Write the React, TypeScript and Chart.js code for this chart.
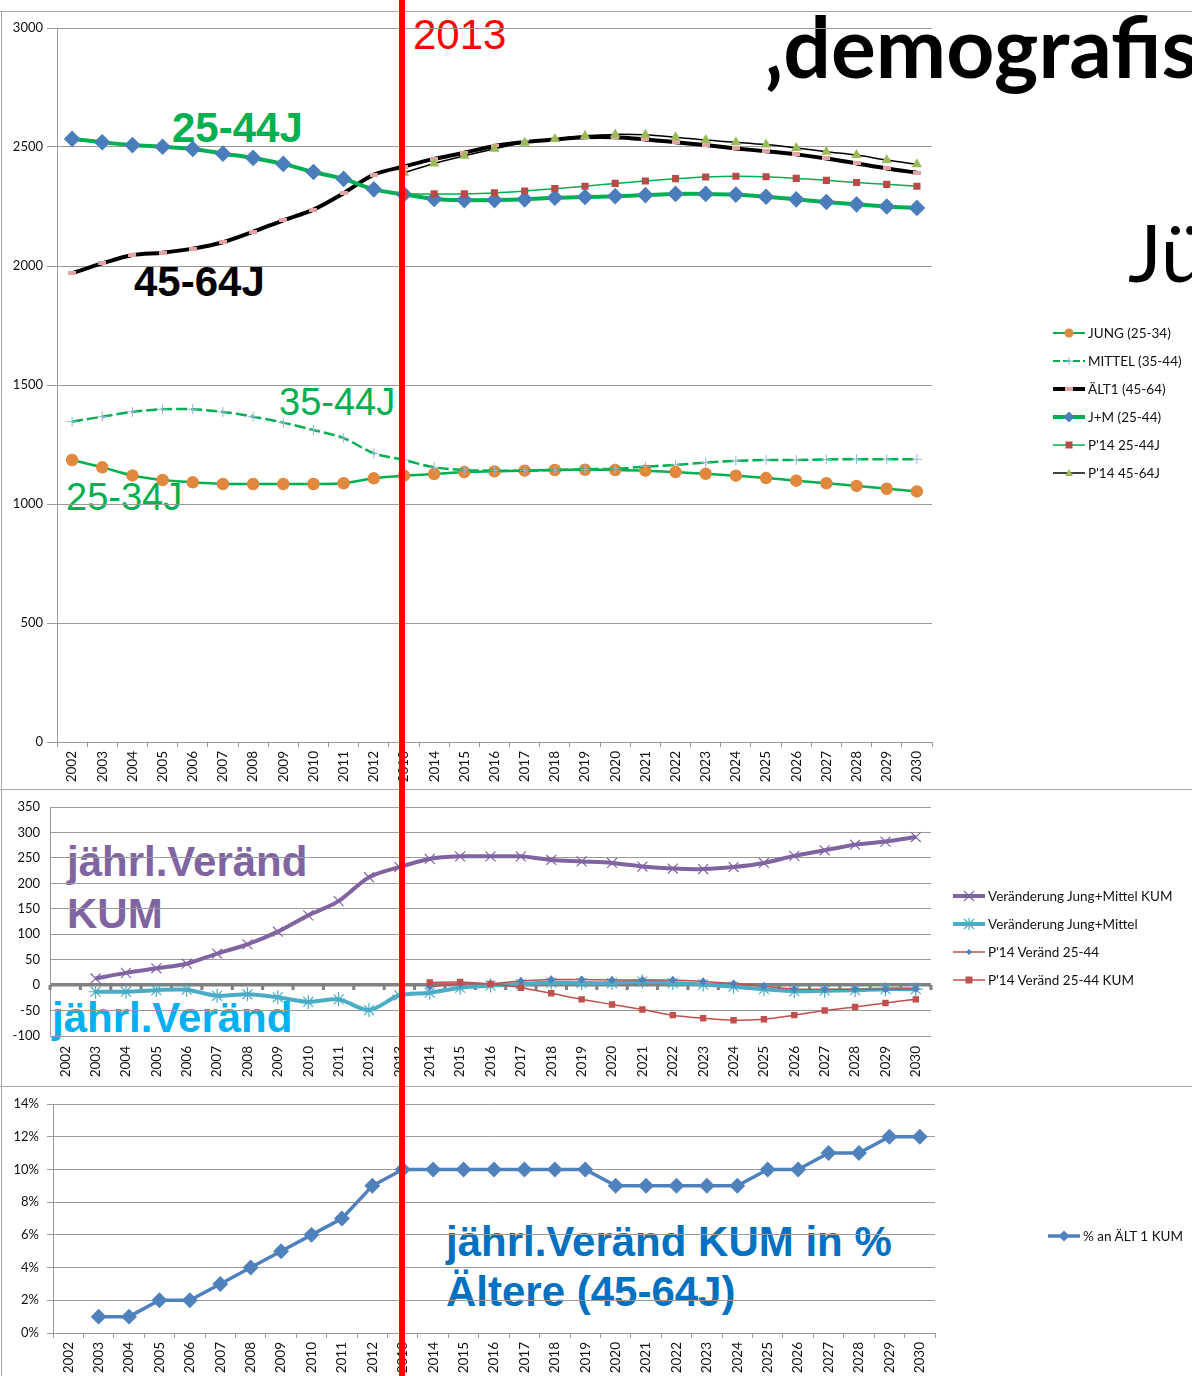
import React, { useEffect, useRef } from "react";
import { Chart, registerables } from "chart.js";

Chart.register(...registerables);

// ---------- DATA ----------
const years = [
  "2002", "2003", "2004", "2005", "2006", "2007", "2008", "2009", "2010", "2011",
  "2012", "2013", "2014", "2015", "2016", "2017", "2018", "2019", "2020", "2021",
  "2022", "2023", "2024", "2025", "2026", "2027", "2028", "2029", "2030",
];
const markYear = "2013";

const jung = [
  1185, 1154, 1120, 1101, 1091, 1084, 1084, 1084, 1084, 1087,
  1108, 1119, 1126, 1134, 1137, 1140, 1143, 1144, 1143, 1140,
  1134, 1127, 1119, 1109, 1098, 1087, 1076, 1064, 1053,
];
const mittel = [
  1346, 1367, 1387, 1398, 1398, 1387, 1367, 1342, 1311, 1277,
  1213, 1185, 1154, 1143, 1140, 1140, 1143, 1146, 1148, 1157,
  1164, 1174, 1181, 1185, 1185, 1187, 1188, 1188, 1188,
];
const aelt1 = [
  1970, 2011, 2046, 2056, 2073, 2100, 2144, 2192, 2237, 2306,
  2384, 2418, 2450, 2476, 2504, 2521, 2532, 2541, 2541, 2532,
  2520, 2508, 2494, 2482, 2469, 2452, 2431, 2410, 2392,
];
const jm = [
  2534, 2520, 2508, 2501, 2492, 2472, 2454, 2429, 2395, 2366,
  2322, 2301, 2282, 2277, 2277, 2280, 2287, 2290, 2293, 2298,
  2303, 2303, 2300, 2291, 2280, 2269, 2259, 2250, 2244,
];
const p14_2544 = [
  null, null, null, null, null, null, null, null, null, null,
  null, 2303, 2303, 2303, 2307, 2315, 2325, 2335, 2347, 2357,
  2367, 2374, 2377, 2375, 2368, 2360, 2351, 2343, 2335,
];
const p14_4564 = [
  null, null, null, null, null, null, null, null, null, null,
  null, 2392, 2431, 2463, 2493, 2518, 2534, 2547, 2553, 2551,
  2541, 2529, 2520, 2510, 2496, 2480, 2466, 2445, 2427,
];

const verKum = [
  null, 13, 24, 33, 42, 62, 80, 105, 137, 165,
  212, 232, 248, 253, 253, 253, 246, 243, 240, 233,
  229, 228, 232, 240, 254, 265, 276, 282, 291,
];
const verJM = [
  null, -13, -13, -10, -9, -21, -18, -24, -33, -28,
  -49, -20, -15, -5, -1, 2, 5, 4, 4, 7,
  4, 1, -3, -8, -12, -11, -10, -8, -8,
];
const p14Ver = [
  null, null, null, null, null, null, null, null, null, null,
  null, null, -3, 2, 3, 8, 11, 11, 10, 10,
  10, 7, 3, -2, -8, -8, -8, -8, -7,
];
const p14VerKum = [
  null, null, null, null, null, null, null, null, null, null,
  null, null, 5, 6, 2, -5, -16, -28, -38, -48,
  -59, -65, -69, -67, -59, -50, -43, -35, -28,
];

const pctAelt = [
  null, 1, 1, 2, 2, 3, 4, 5, 6, 7,
  9, 10, 10, 10, 10, 10, 10, 10, 9, 9,
  9, 9, 9, 10, 10, 11, 11, 12, 12,
];

const topTicks = { min: 0, max: 3000, step: 500 };
const midTicks = { min: -100, max: 350, step: 50 };
const botTicks = { min: 0, max: 14, step: 2 };

// ---------- STYLE ----------
const GRID = "#9A9A9A";
const TICKFONT = "Lato, 'Open Sans', sans-serif";
const AR = "'Liberation Sans', Arial, sans-serif";
const LA = "Lato, sans-serif";

const S = {
  green: "#00B050",
  orange: "#E0883E",
  crossC: "#95B3D7",
  pink: "#E3A3A2",
  blue: "#4A7EBB",
  darkred: "#B84A48",
  olive: "#9BBB59",
  purple: "#8064A2",
  cyan: "#4BACC6",
  red: "#C0504D",
  steel: "#4F81BD",
};

function makeDash(color: string, w: number, h: number) {
  const c = document.createElement("canvas");
  c.width = w;
  c.height = h;
  const x = c.getContext("2d")!;
  x.fillStyle = color;
  x.fillRect(0, 0, w, h);
  return c;
}

const framePlugin = {
  id: "frame",
  beforeDraw(chart: any, _a: any, opts: any) {
    const { ctx, width, height } = chart;
    ctx.save();
    ctx.strokeStyle = "#A8A8A8";
    ctx.lineWidth = 1;
    ctx.beginPath();
    ctx.moveTo(0, opts.top + 0.5);
    ctx.lineTo(width, opts.top + 0.5);
    ctx.moveTo(1.5, opts.top);
    ctx.lineTo(1.5, height);
    ctx.stroke();
    ctx.restore();
  },
};

const zeroAxisPlugin = {
  id: "zeroAxis",
  beforeDatasetsDraw(chart: any) {
    const { ctx } = chart;
    const xs = chart.scales.x;
    const ys = chart.scales.y;
    const y0 = ys.getPixelForValue(0);
    const w = xs.getPixelForValue(1) - xs.getPixelForValue(0);
    ctx.save();
    ctx.strokeStyle = "#808080";
    ctx.lineWidth = 3;
    ctx.beginPath();
    for (let i = 0; i <= years.length; i++) {
      const px = xs.getPixelForValue(0) - w / 2 + i * w;
      ctx.moveTo(px, y0);
      ctx.lineTo(px, y0 + 5);
    }
    ctx.stroke();
    ctx.restore();
  },
};

function baseOptions(o: {
  left: number;
  right: number;
  top: number;
  xHeight: number;
  yMin: number;
  yMax: number;
  yStep: number;
  yTickLen: number;
  yPad: number;
  xTicks: boolean;
  xPad: number;
  frameTop: number;
  yFmt?: (v: number) => string;
  zeroBold?: boolean;
}) {
  return {
    responsive: false,
    animation: false,
    layout: { padding: { left: 0, top: o.top, right: o.right, bottom: 0 } },
    plugins: {
      legend: { display: false },
      tooltip: { enabled: false },
      frame: { top: o.frameTop },
    },
    scales: {
      x: {
        type: "category",
        offset: true,
        afterFit: (s: any) => {
          s.height = o.xHeight;
        },
        grid: {
          display: true,
          drawOnChartArea: false,
          drawTicks: o.xTicks,
          tickLength: 5,
          offset: true,
          color: GRID,
        },
        border: { display: o.xTicks, color: GRID },
        ticks: {
          autoSkip: false,
          maxRotation: 90,
          minRotation: 90,
          padding: o.xPad,
          color: "#111",
          font: { family: TICKFONT, size: 13.5 },
        },
      },
      y: {
        min: o.yMin,
        max: o.yMax,
        afterFit: (s: any) => {
          s.width = o.left;
        },
        grid: {
          color: (c: any) =>
            o.zeroBold && c.tick && c.tick.value === 0 ? "#808080" : GRID,
          lineWidth: (c: any) =>
            o.zeroBold && c.tick && c.tick.value === 0 ? 3.5 : 1,
          drawTicks: o.yTickLen > 0,
          tickLength: o.yTickLen,
        },
        border: { display: true, color: GRID },
        ticks: {
          stepSize: o.yStep,
          padding: o.yPad,
          color: "#111",
          font: { family: TICKFONT, size: 13 },
          callback: (v: any) => (o.yFmt ? o.yFmt(Number(v)) : String(v)),
        },
      },
    },
  } as any;
}

// ---------- LEGEND ----------
type Mk =
  | "circle"
  | "cross"
  | "dash"
  | "diamond"
  | "square"
  | "triangle"
  | "x"
  | "star"
  | "smallDiamond";

function Marker({ t, color }: { t: Mk; color: string }) {
  const cx = 16;
  const cy = 6;
  switch (t) {
    case "circle":
      return <circle cx={cx} cy={cy} r={4.5} fill={color} />;
    case "cross":
      return (
        <path d={`M${cx - 4} ${cy}H${cx + 4}M${cx} ${cy - 4}V${cy + 4}`} stroke={color} strokeWidth={1} />
      );
    case "dash":
      return <rect x={cx - 4} y={cy - 2} width={8} height={4} fill={color} />;
    case "diamond":
      return <polygon points={`${cx},${cy - 5.5} ${cx + 5.5},${cy} ${cx},${cy + 5.5} ${cx - 5.5},${cy}`} fill={color} />;
    case "smallDiamond":
      return <polygon points={`${cx},${cy - 3} ${cx + 3},${cy} ${cx},${cy + 3} ${cx - 3},${cy}`} fill={color} />;
    case "square":
      return <rect x={cx - 3.5} y={cy - 3.5} width={7} height={7} fill={color} />;
    case "triangle":
      return <polygon points={`${cx},${cy - 4} ${cx + 4},${cy + 3} ${cx - 4},${cy + 3}`} fill={color} />;
    case "x":
      return (
        <path d={`M${cx - 5} ${cy - 5}L${cx + 5} ${cy + 5}M${cx + 5} ${cy - 5}L${cx - 5} ${cy + 5}`} stroke={color} strokeWidth={1.2} />
      );
    case "star":
      return (
        <path
          d={`M${cx - 5} ${cy - 5}L${cx + 5} ${cy + 5}M${cx + 5} ${cy - 5}L${cx - 5} ${cy + 5}M${cx} ${cy - 6}V${cy + 6}`}
          stroke={color}
          strokeWidth={1.2}
        />
      );
  }
  return null;
}

type LItem = {
  label: string;
  line: string;
  lw: number;
  dash?: string;
  mk: Mk;
  mc: string;
};

function Legend({ x, y, step, items }: { x: number; y: number; step: number; items: LItem[] }) {
  return (
    <>
      {items.map((it, i) => (
        <div
          key={i}
          style={{
            position: "absolute",
            left: x,
            top: y + i * step - 10,
            height: 20,
            display: "flex",
            alignItems: "center",
            fontFamily: TICKFONT,
            fontSize: 13.5,
            color: "#111",
            whiteSpace: "nowrap",
            zIndex: 3,
          }}
        >
          <svg width={33} height={12} style={{ marginRight: 2 }}>
            <line x1={0} y1={6} x2={32} y2={6} stroke={it.line} strokeWidth={it.lw} strokeDasharray={it.dash} />
            <Marker t={it.mk} color={it.mc} />
          </svg>
          <span>{it.label}</span>
        </div>
      ))}
    </>
  );
}

function Txt(p: {
  x: number;
  base: number;
  size: number;
  color: string;
  bold?: boolean;
  family: string;
  asc: number;
  sx?: number;
  children: React.ReactNode;
}) {
  return (
    <div
      style={{
        position: "absolute",
        left: p.x,
        top: p.base - p.asc * p.size,
        fontSize: p.size,
        lineHeight: `${p.size}px`,
        fontFamily: p.family,
        fontWeight: p.bold ? 700 : 400,
        color: p.color,
        whiteSpace: "nowrap",
        zIndex: 0,
        transform: p.sx ? `scaleX(${p.sx})` : undefined,
        transformOrigin: "left top",
      }}
    >
      {p.children}
    </div>
  );
}

const ARA = 0.8465;
const LAA = 0.887;

export default function App() {
  const r1 = useRef<HTMLCanvasElement>(null);
  const r2 = useRef<HTMLCanvasElement>(null);
  const r3 = useRef<HTMLCanvasElement>(null);
  const redRef = useRef<HTMLDivElement>(null);

  useEffect(() => {
    const pinkDash = makeDash(S.pink, 8, 4);

    const c1 = new Chart(r1.current!, {
      type: "line",
      data: {
        labels: years,
        datasets: [
          {
            label: "JUNG (25-34)",
            data: jung,
            borderColor: S.green,
            borderWidth: 2.5,
            pointStyle: "circle",
            pointRadius: 5,
            pointBackgroundColor: S.orange,
            pointBorderColor: S.orange,
            tension: 0.3,
            order: 6,
          },
          {
            label: "MITTEL (35-44)",
            data: mittel,
            borderColor: S.green,
            borderWidth: 2.5,
            borderDash: [11, 4],
            pointStyle: "cross",
            pointRadius: 5,
            pointBorderColor: S.crossC,
            pointBorderWidth: 1,
            tension: 0.3,
            order: 5,
          },
          {
            label: "ÄLT1 (45-64)",
            data: aelt1,
            borderColor: "#000",
            borderWidth: 4,
            pointStyle: pinkDash as any,
            pointRadius: 4,
            tension: 0.3,
            order: 4,
          },
          {
            label: "J+M (25-44)",
            data: jm,
            borderColor: S.green,
            borderWidth: 4,
            pointStyle: "rectRot",
            pointRadius: 5.5,
            pointBackgroundColor: S.blue,
            pointBorderColor: S.blue,
            tension: 0.3,
            order: 3,
          },
          {
            label: "P'14 25-44J",
            data: p14_2544,
            borderColor: S.green,
            borderWidth: 1.5,
            pointStyle: "rect",
            pointRadius: 4,
            pointBackgroundColor: S.darkred,
            pointBorderColor: S.darkred,
            tension: 0.3,
            order: 2,
          },
          {
            label: "P'14 45-64J",
            data: p14_4564,
            borderColor: "#000",
            borderWidth: 1.5,
            pointStyle: "triangle",
            pointRadius: 4.5,
            pointBackgroundColor: S.olive,
            pointBorderColor: S.olive,
            tension: 0.3,
            order: 1,
          },
        ],
      },
      options: baseOptions({
        left: 57,
        right: 1192 - 932,
        top: 28,
        xHeight: 788 - 742,
        yMin: topTicks.min,
        yMax: topTicks.max,
        yStep: topTicks.step,
        yTickLen: 10,
        yPad: 4,
        xTicks: true,
        xPad: 4,
        frameTop: 11,
      }),
      plugins: [framePlugin],
    } as any);

    const c2 = new Chart(r2.current!, {
      type: "line",
      data: {
        labels: years,
        datasets: [
          {
            label: "Veränderung Jung+Mittel KUM",
            data: verKum,
            borderColor: S.purple,
            borderWidth: 4,
            pointStyle: "crossRot",
            pointRadius: 7,
            pointBorderColor: S.purple,
            pointBorderWidth: 1.2,
            tension: 0.3,
            order: 4,
          },
          {
            label: "Veränderung Jung+Mittel",
            data: verJM,
            borderColor: S.cyan,
            borderWidth: 4,
            pointStyle: "star",
            pointRadius: 7,
            pointBorderColor: S.cyan,
            pointBorderWidth: 1.2,
            tension: 0.3,
            order: 3,
          },
          {
            label: "P'14 Veränd 25-44",
            data: p14Ver,
            borderColor: S.red,
            borderWidth: 1.5,
            pointStyle: "rectRot",
            pointRadius: 3,
            pointBackgroundColor: S.steel,
            pointBorderColor: S.steel,
            tension: 0.3,
            order: 2,
          },
          {
            label: "P'14 Veränd 25-44 KUM",
            data: p14VerKum,
            borderColor: S.red,
            borderWidth: 1.5,
            pointStyle: "rect",
            pointRadius: 3.5,
            pointBackgroundColor: S.red,
            pointBorderColor: S.red,
            tension: 0.3,
            order: 1,
          },
        ],
      },
      options: baseOptions({
        left: 50,
        right: 1192 - 931,
        top: 19,
        xHeight: 298 - 248,
        yMin: midTicks.min,
        yMax: midTicks.max,
        yStep: midTicks.step,
        yTickLen: 0,
        yPad: 10,
        xTicks: false,
        xPad: 10,
        frameTop: 1,
        zeroBold: true,
      }),
      plugins: [framePlugin, zeroAxisPlugin],
    } as any);

    const c3 = new Chart(r3.current!, {
      type: "line",
      data: {
        labels: years,
        datasets: [
          {
            label: "% an ÄLT 1 KUM",
            data: pctAelt,
            borderColor: S.steel,
            borderWidth: 3.5,
            pointStyle: "rectRot",
            pointRadius: 5.5,
            pointBackgroundColor: S.steel,
            pointBorderColor: S.steel,
            tension: 0,
          },
        ],
      },
      options: baseOptions({
        left: 53,
        right: 1192 - 935,
        top: 18,
        xHeight: 290 - 247,
        yMin: botTicks.min,
        yMax: botTicks.max,
        yStep: botTicks.step,
        yTickLen: 6,
        yPad: 8,
        xTicks: true,
        xPad: 4,
        frameTop: 0,
        yFmt: (v) => `${v}%`,
      }),
      plugins: [framePlugin],
    } as any);

    const charts = [c1, c2, c3];
    const idx = years.indexOf(markYear);
    const xs = charts.map((c) => c.scales.x.getPixelForValue(idx));
    const mx = xs.reduce((a, b) => a + b, 0) / xs.length;
    if (redRef.current) redRef.current.style.left = `${mx - 3}px`;

    return () => charts.forEach((c) => c.destroy());
  }, []);

  const canvasStyle = (top: number, h: number): React.CSSProperties => ({
    position: "absolute",
    left: 0,
    top,
    width: 1192,
    height: h,
    zIndex: 1,
  });

  return (
    <div
      style={{
        position: "absolute",
        left: 0,
        top: 0,
        width: 1192,
        height: 1376,
        overflow: "hidden",
        background: "#fff",
      }}
    >
      {/* annotations (behind chart grids) */}
      <Txt x={765} base={79} size={84} color="#000" bold family={LA} asc={LAA}>
        ‚demografischer
      </Txt>
      <Txt x={1128} base={282} size={80} color="#000" family={LA} asc={LAA}>
        Jüngere
      </Txt>
      <Txt x={413} base={50} size={42} color="#FF0000" family={AR} asc={ARA}>
        2013
      </Txt>
      <Txt x={172} base={143} size={42} color={S.green} bold family={AR} asc={ARA}>
        25-44J
      </Txt>
      <Txt x={134} base={297} size={42} color="#000" bold family={AR} asc={ARA}>
        45-64J
      </Txt>
      <Txt x={279} base={415} size={38} color={S.green} family={AR} asc={ARA}>
        35-44J
      </Txt>
      <Txt x={66} base={510} size={38} color={S.green} family={AR} asc={ARA}>
        25-34J
      </Txt>
      <Txt x={67} base={877} size={42} color={S.purple} bold family={AR} asc={ARA}>
        jährl.Veränd
      </Txt>
      <Txt x={67} base={929} size={42} color={S.purple} bold family={AR} asc={ARA}>
        KUM
      </Txt>
      <Txt x={52} base={1033} size={42} color="#00B0F0" bold family={AR} asc={ARA}>
        jährl.Veränd
      </Txt>
      <Txt x={446} base={1257} size={42} color="#0070C0" bold family={AR} asc={ARA}>
        jährl.Veränd KUM in %
      </Txt>
      <Txt x={446} base={1307} size={42} color="#0070C0" bold family={AR} asc={ARA}>
        Ältere (45-64J)
      </Txt>

      <canvas ref={r1} width={1192} height={788} style={canvasStyle(0, 788)} />
      <canvas ref={r2} width={1192} height={298} style={canvasStyle(788, 298)} />
      <canvas ref={r3} width={1192} height={290} style={canvasStyle(1086, 290)} />

      <Legend
        x={1053}
        y={333}
        step={28}
        items={[
          { label: "JUNG (25-34)", line: S.green, lw: 2, mk: "circle", mc: S.orange },
          { label: "MITTEL (35-44)", line: S.green, lw: 2, dash: "7 3", mk: "cross", mc: S.crossC },
          { label: "ÄLT1 (45-64)", line: "#000", lw: 4, mk: "dash", mc: S.pink },
          { label: "J+M (25-44)", line: S.green, lw: 4, mk: "diamond", mc: S.blue },
          { label: "P'14 25-44J", line: S.green, lw: 1.5, mk: "square", mc: S.darkred },
          { label: "P'14 45-64J", line: "#000", lw: 1.5, mk: "triangle", mc: S.olive },
        ]}
      />
      <Legend
        x={953}
        y={896}
        step={28}
        items={[
          { label: "Veränderung Jung+Mittel KUM", line: S.purple, lw: 4, mk: "x", mc: S.purple },
          { label: "Veränderung Jung+Mittel", line: S.cyan, lw: 4, mk: "star", mc: S.cyan },
          { label: "P'14 Veränd 25-44", line: S.red, lw: 1.5, mk: "smallDiamond", mc: S.steel },
          { label: "P'14 Veränd 25-44 KUM", line: S.red, lw: 1.5, mk: "square", mc: S.red },
        ]}
      />
      <Legend
        x={1048}
        y={1236}
        step={28}
        items={[{ label: "% an ÄLT 1 KUM", line: S.steel, lw: 3.5, mk: "diamond", mc: S.steel }]}
      />

      <div
        ref={redRef}
        style={{
          position: "absolute",
          top: 0,
          left: 398,
          width: 6,
          height: 1376,
          background: "#FF0000",
          zIndex: 4,
        }}
      />
    </div>
  );
}
